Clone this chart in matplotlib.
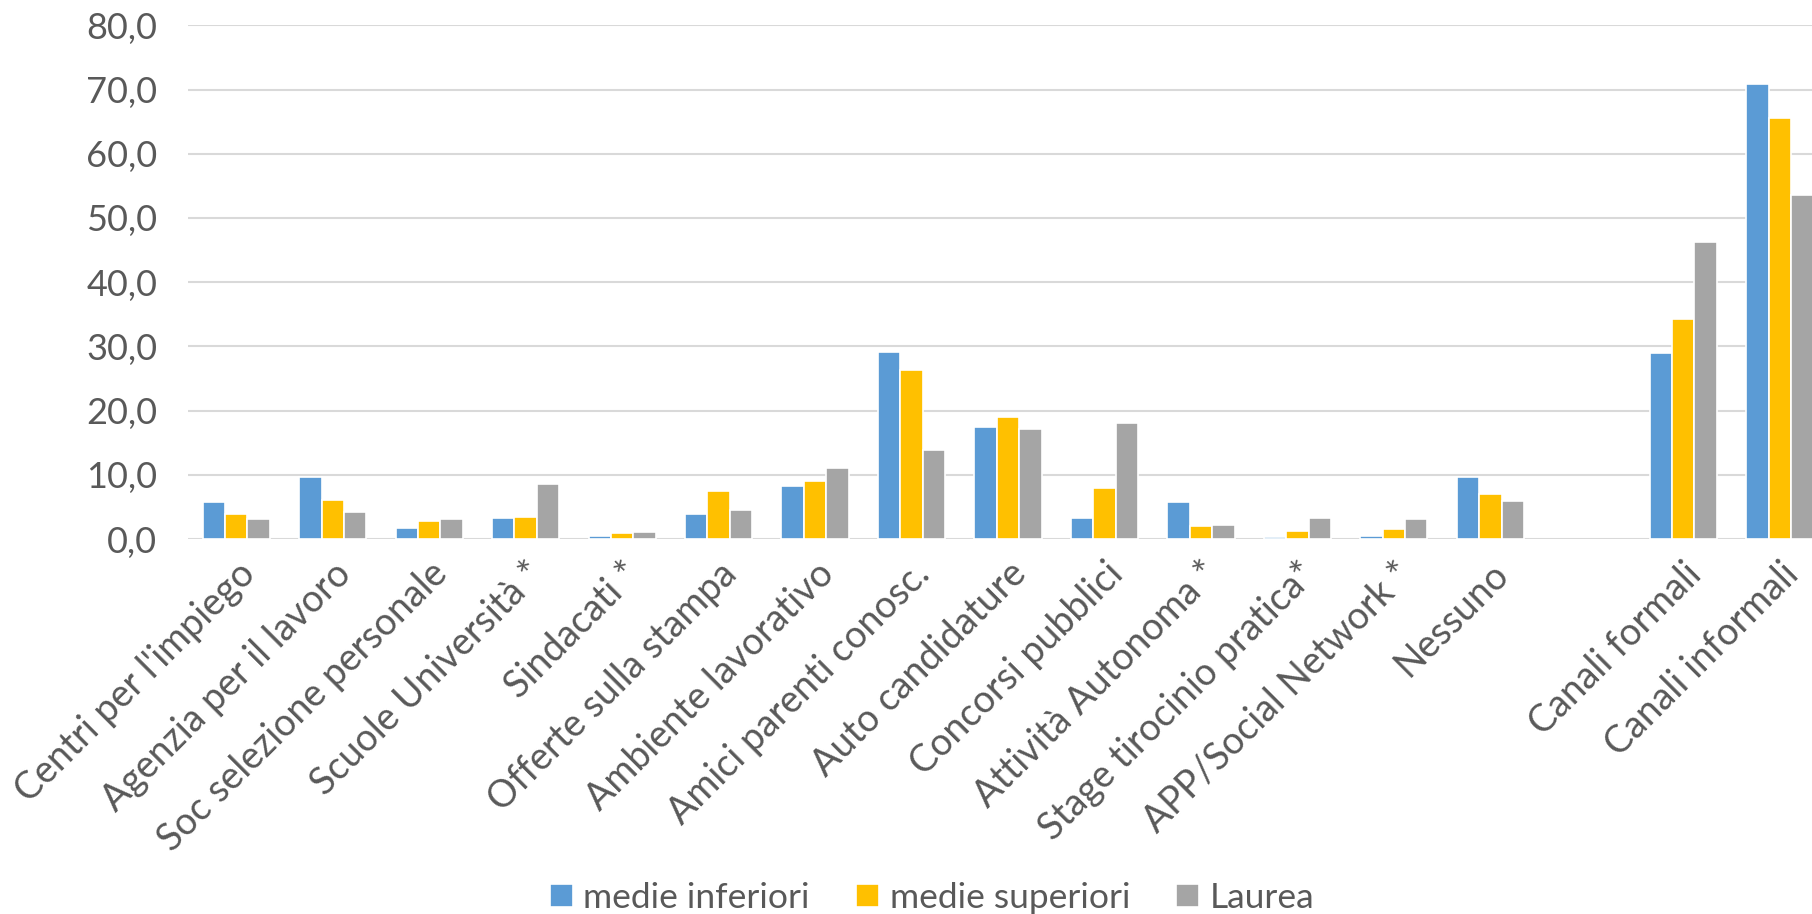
import matplotlib
matplotlib.use("Agg")
import matplotlib.pyplot as plt
import numpy as np

plt.rcParams['font.family'] = ['Lato', 'DejaVu Sans']

categories = ["Centri per l'impiego", "Agenzia per il lavoro", "Soc selezione personale",
              "Scuole Università *", "Sindacati *", "Offerte sulla stampa",
              "Ambiente lavorativo", "Amici parenti conosc.", "Auto candidature",
              "Concorsi pubblici", "Attività Autonoma *", "Stage tirocinio pratica*",
              "APP/Social Network *", "Nessuno", "", "Canali formali", "Canali informali"]

medie_inferiori = [5.8, 9.7, 1.7, 3.2, 0.5, 3.9, 8.3, 29.1, 17.4, 3.3, 5.7, 0.3, 0.5, 9.6, np.nan, 29.0, 70.8]
medie_superiori = [3.9, 6.1, 2.8, 3.5, 1.0, 7.5, 9.0, 26.4, 19.0, 8.0, 2.1, 1.2, 1.5, 7.0, np.nan, 34.3, 65.5]
laurea = [3.1, 4.2, 3.1, 8.5, 1.1, 4.5, 11.0, 13.9, 17.2, 18.1, 2.2, 3.2, 3.1, 5.9, np.nan, 46.3, 53.6]

series = [("medie inferiori", medie_inferiori, "#5B9BD5"),
          ("medie superiori", medie_superiori, "#FFC000"),
          ("Laurea", laurea, "#A5A5A5")]

text_color = "#595959"

fig = plt.figure(figsize=(18.12, 9.14), dpi=100)
# axes extends slightly past the right edge, as in the original
ax = fig.add_axes([188 / 1812, 1 - 539 / 914, 1640 / 1812, (539 - 25.4) / 914])

x = np.arange(len(categories))
width = 0.232
for i, (name, vals, color) in enumerate(series):
    ax.bar(x + (i - 1) * width, vals, width, color=color, edgecolor="white",
           linewidth=1.2, label=name, zorder=3)

ax.set_xlim(-0.5, len(categories) - 0.5)
ax.set_ylim(0, 80)
ax.set_yticks(np.arange(0, 81, 10))
ax.set_yticklabels([f"{v:.1f}".replace(".", ",") for v in np.arange(0, 81, 10)])
ax.grid(axis="y", color="#D9D9D9", linewidth=1.5, zorder=0)
for s in ax.spines.values():
    s.set_visible(False)
ax.tick_params(axis="both", length=0, labelcolor=text_color)
ax.tick_params(axis="y", labelsize=26, pad=22)

ax.set_xticks(x)
ax.set_xticklabels(categories, rotation=45, ha="right", va="top",
                   rotation_mode="anchor", fontsize=27, color=text_color)
ax.tick_params(axis="x", pad=12)

fig.legend(loc="lower center", bbox_to_anchor=(932 / 1812, -0.035), ncol=3,
           frameon=False, fontsize=25.5, labelcolor=text_color,
           handlelength=0.65, handleheight=0.65, handletextpad=0.3, columnspacing=1.3)

fig.savefig("out.png", dpi=100)
